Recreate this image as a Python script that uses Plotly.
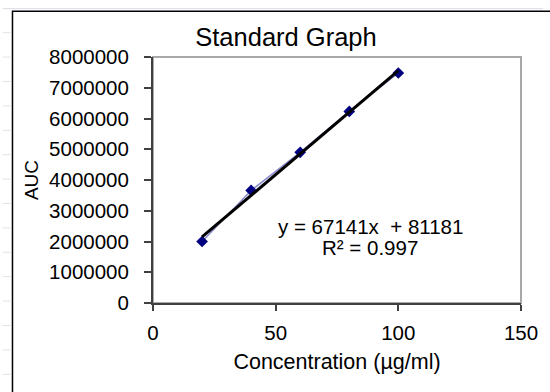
import numpy as np
import plotly.graph_objects as go

# Data
concentration = [20, 40, 60, 80, 100]
auc = [2000000, 3660000, 4900000, 6230000, 7480000]
x_ticks = [0, 50, 100, 150]
y_ticks = [0, 1000000, 2000000, 3000000, 4000000, 5000000, 6000000, 7000000, 8000000]
title_text = "Standard Graph"
x_title = "Concentration (µg/ml)"
y_title = "AUC"
eq_text = "y = 67141x\u00a0 + 81181"
r2_text = "R² = 0.997"

# Linear trendline fitted to the data
slope, intercept = np.polyfit(concentration, auc, 1)
trend_x = [min(concentration), max(concentration)]
trend_y = [slope * v + intercept for v in trend_x]

W, H = 550, 392
L, R, T, B = 153, 22.5, 57.3, 88.7
FONT = "Liberation Sans, Arial, sans-serif"

fig = go.Figure()
fig.add_trace(go.Scatter(
    x=concentration, y=auc, mode="lines+markers",
    line=dict(color="#8a8ad0", width=1.5),
    marker=dict(symbol="diamond", size=9, color="#000080"),
    showlegend=False, hoverinfo="x+y"))
fig.add_trace(go.Scatter(
    x=trend_x, y=trend_y, mode="lines",
    line=dict(color="#000000", width=3),
    showlegend=False, hoverinfo="skip"))

fig.update_layout(
    width=W, height=H,
    margin=dict(l=L, r=R, t=T, b=B, pad=0),
    paper_bgcolor="white", plot_bgcolor="white",
    font=dict(family=FONT, color="#000000"),
    title=dict(text=title_text, x=286 / W, xanchor="center",
               y=1 - 37 / H, yanchor="middle",
               font=dict(size=25.5, family=FONT, color="#000000")),
    xaxis=dict(range=[0, 150], tickvals=x_ticks, ticktext=[str(v) for v in x_ticks],
               showgrid=False, zeroline=False,
               showline=True, linecolor="#404040", linewidth=2,
               ticks="outside", ticklen=6, tickwidth=1.5, tickcolor="#404040",
               ticklabelstandoff=4,
               tickfont=dict(size=20.5, family=FONT, color="#000000"),
               title=dict(text=x_title, font=dict(size=21.5, family=FONT, color="#000000"),
                          standoff=11)),
    yaxis=dict(range=[0, 8000000], tickvals=y_ticks, ticktext=[str(v) for v in y_ticks],
               showgrid=False, zeroline=False,
               showline=True, linecolor="#404040", linewidth=2,
               ticks="outside", ticklen=7, tickwidth=1.5, tickcolor="#404040",
               ticklabelstandoff=11,
               tickfont=dict(size=20.5, family=FONT, color="#000000"),
               title=dict(text=y_title, font=dict(size=19, family=FONT, color="#000000"),
                          standoff=5)),
)

# plot-area frame (grey top/right edges)
fig.add_shape(type="rect", xref="x domain", yref="y domain", x0=0, x1=1, y0=0, y1=1,
              line=dict(color="#a8a8a8", width=2), layer="below")

# outer chart border
fig.add_shape(type="rect", xref="paper", yref="paper",
              x0=(10 - L) / (W - L - R), x1=(560 - L) / (W - L - R),
              y0=(H - 400 - B) / (H - T - B), y1=(H - 11.5 - B) / (H - T - B),
              line=dict(color="#000000", width=1.5), layer="below")
# faint spreadsheet line at top
fig.add_shape(type="line", xref="paper", yref="paper",
              x0=(0 - L) / (W - L - R), x1=(W - L) / (W - L - R),
              y0=(H - 9 - B) / (H - T - B), y1=(H - 9 - B) / (H - T - B),
              line=dict(color="#d8dde4", width=1), layer="below")
for k in range(15):
    yy = 33 + 24.4 * k
    fig.add_shape(type="line", xref="paper", yref="paper",
                  x0=(0 - L) / (W - L - R), x1=(8 - L) / (W - L - R),
                  y0=(H - yy - B) / (H - T - B), y1=(H - yy - B) / (H - T - B),
                  line=dict(color="#dde2ea", width=1), layer="below")

fig.add_annotation(x=88.5, y=(303.3 - 227) / 30.75 * 1e6, xref="x", yref="y",
                   text=eq_text, showarrow=False, xanchor="center", yanchor="middle",
                   font=dict(size=20.5, family=FONT, color="#000000"))
fig.add_annotation(x=88.5, y=(303.3 - 248) / 30.75 * 1e6, xref="x", yref="y",
                   text=r2_text, showarrow=False, xanchor="center", yanchor="middle",
                   font=dict(size=20.5, family=FONT, color="#000000"))

fig.write_html("out.html")
